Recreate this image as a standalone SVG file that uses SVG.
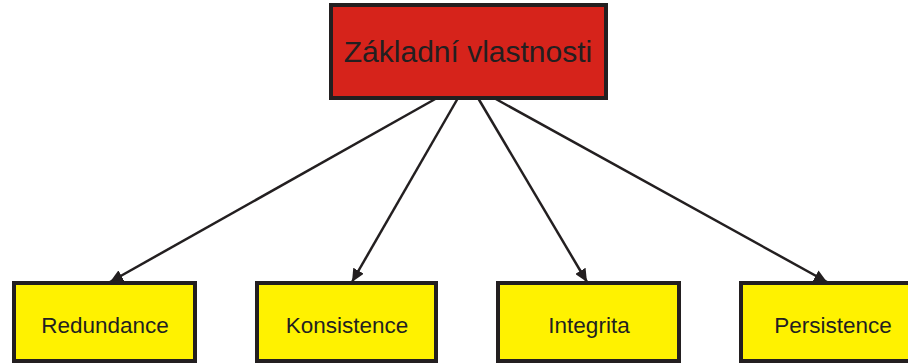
<svg xmlns="http://www.w3.org/2000/svg" width="908" height="364" viewBox="0 0 908 364">
  <style>
    .box { stroke: #231f20; stroke-width: 4; }
    .root { fill: #d6231b; }
    .leaf { fill: #fff200; }
    .label { font-family: "Liberation Sans", Arial, sans-serif; fill: #231f20; text-anchor: middle; }
    .edge { stroke: #231f20; stroke-width: 2.5; fill: none; marker-end: url(#arrow); }
  </style>
  <defs>
    <marker id="arrow" markerUnits="userSpaceOnUse" markerWidth="14" markerHeight="12" refX="13" refY="6" orient="auto">
      <path d="M0,0 L13,6 L0,12 Z" fill="#231f20"/>
    </marker>
  </defs>

  <g id="connectors">
    <line class="edge" x1="437" y1="98" x2="110" y2="282"/>
    <line class="edge" x1="458" y1="98" x2="352" y2="282"/>
    <line class="edge" x1="478" y1="98" x2="587" y2="282"/>
    <line class="edge" x1="494" y1="98" x2="827" y2="282"/>
  </g>

  <g id="zakladni-vlastnosti">
    <rect class="box root" x="331" y="5" width="275" height="93"/>
    <text class="label" x="468" y="62" font-size="30">Základní vlastnosti</text>
  </g>

  <g id="redundance">
    <rect class="box leaf" x="14" y="283" width="181" height="78"/>
    <text class="label" x="105" y="333" font-size="22.5">Redundance</text>
  </g>

  <g id="konsistence">
    <rect class="box leaf" x="257" y="283" width="179" height="78"/>
    <text class="label" x="347" y="333" font-size="22.5">Konsistence</text>
  </g>

  <g id="integrita">
    <rect class="box leaf" x="498" y="283" width="181" height="78"/>
    <text class="label" x="589" y="333" font-size="22.5">Integrita</text>
  </g>

  <g id="persistence">
    <rect class="box leaf" x="741" y="283" width="190" height="78"/>
    <text class="label" x="833" y="333" font-size="22.5">Persistence</text>
  </g>
</svg>
